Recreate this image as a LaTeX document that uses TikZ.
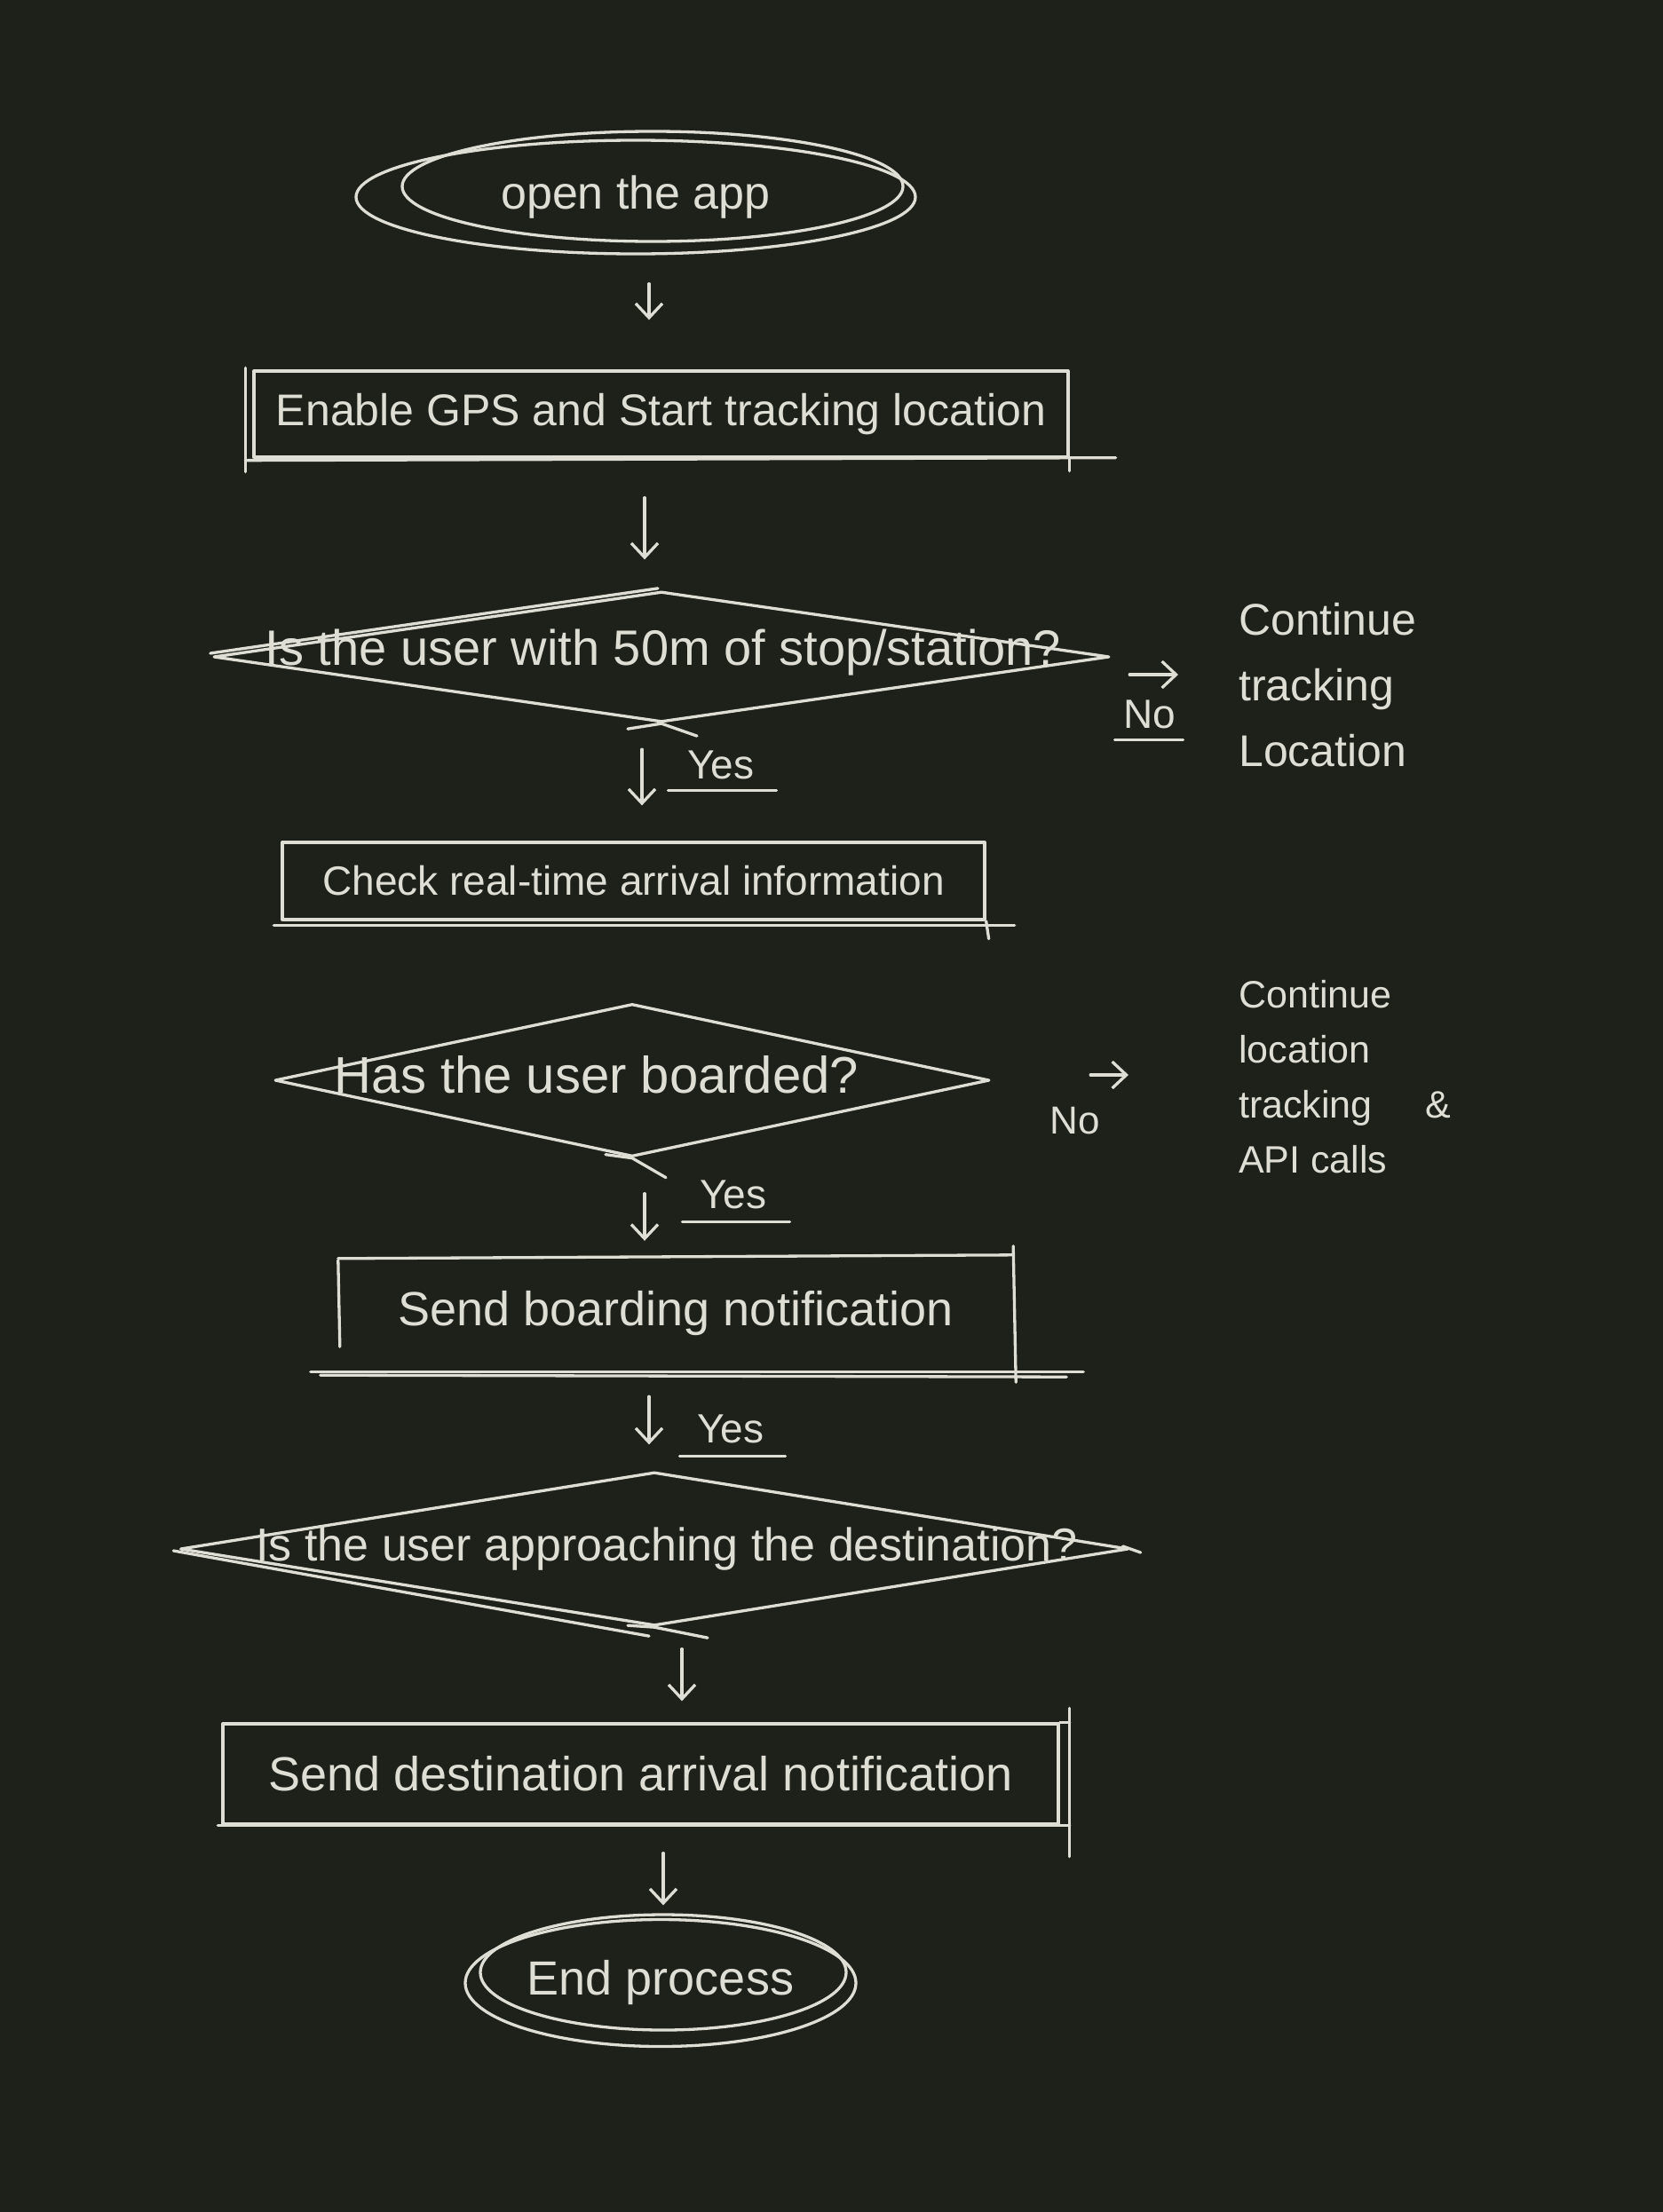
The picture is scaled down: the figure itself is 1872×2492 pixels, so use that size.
\documentclass[tikz,border=0pt]{standalone}
\usepackage{fontspec}
\setmainfont{Liberation Sans}
\usetikzlibrary{shapes.geometric,arrows.meta,calc}
\definecolor{bg}{RGB}{29,33,26}
\definecolor{chalk}{RGB}{222,222,212}
\begin{document}
\begin{tikzpicture}[x=1pt,y=-1pt,
  every node/.style={text=chalk},
  line/.style={draw=chalk,line width=3.3pt,line cap=round,line join=round},
  stepbox/.style={line, rectangle, inner sep=0pt},
  plainbox/.style={rectangle, inner sep=0pt},
  ovalbox/.style={line, ellipse, inner sep=0pt},
  decision/.style={line, diamond, inner sep=0pt},
  txt/.style={inner sep=0pt},
  arr/.style={line, -{Straight Barb[length=16pt,width=30pt,line width=3.3pt]}},
  uline/.style={line, line width=2.8pt},
]
\useasboundingbox (0,0) rectangle (1872,2492);
\fill[bg] (-20,-20) rectangle (1892,2512);

% start
\node[ovalbox, minimum width=630pt, minimum height=128pt, font=\fontsize{52}{62}\selectfont] (start) at (716,222) {open the app};
\draw[line] (735,210) ellipse [x radius=282pt, y radius=62pt];

% GPS box
\node[stepbox, minimum width=917pt, minimum height=97pt, font=\fontsize{50}{60}\selectfont] (gps) at (744.5,466.5) {Enable GPS and Start tracking location};
\draw[line] ($(gps.north west)+(-8,-2)$) -- ($(gps.south west)+(-8,15)$);
\draw[line] ($(gps.south west)+(-8,2)$) -- ($(gps.south east)+(52,-1)$);
\draw[line] (gps.south east) -- ++(0,14);
\draw[arr] ($(start.south)+(15,32)$) -- ($(gps.north)+(-13.5,-56)$);

% decision 1
\node[decision, minimum width=1009pt, minimum height=147pt] (near) at (745,740) {};
\draw[line] ($(near.west)+(-2,-4)$) -- ($(near.north)+(-4,-2)$);
\draw[line] ($(near.south)+(-38,6)$) -- (near.south) -- ($(near.south)+(40,14)$);
\node[txt, font=\fontsize{56}{66}\selectfont] (neartxt) at (747,735) {Is the user with 50m of stop/station?};
\draw[arr] ($(gps.south)+(-18.5,44)$) -- ($(near.north)+(-19,-34.5)$);

\node[txt, anchor=west, align=left, font=\fontsize{50}{74}\selectfont] (cont1) at (1395,772) {Continue\\tracking\\Location};
\draw[arr] ($(near.east)+(21,20)$) -- ($(cont1.west)+(-68,-12)$);
\node[txt, font=\fontsize{46}{56}\selectfont] (no1) at (1295,805) {No};
\draw[uline] ($(no1.south west)+(-10,12)$) -- ($(no1.south east)+(8,12)$);

% check box
\node[stepbox, minimum width=791pt, minimum height=87pt, font=\fontsize{46}{56}\selectfont] (check) at (713.5,992.5) {Check real-time arrival information};
\draw[arr] ($(near.south)+(-22,29)$) -- ($(check.north)+(9.5,-40)$);
\node[txt, font=\fontsize{46}{56}\selectfont] (yes1) at (812,862) {Yes};
\draw[uline] ($(yes1.south west)+(-22,12)$) -- ($(yes1.south east)+(25,12)$);
\draw[line] ($(check.south west)+(-8,5)$) -- ($(check.south east)+(32,5)$);
\draw[line] (check.south east) -- ++(3,20);

% decision 2
\node[decision, minimum width=805pt, minimum height=172pt] (board) at (712,1217) {};
\draw[line] ($(board.south)+(-30,-4)$) -- (board.south) -- ($(board.south)+(38,22)$);
\node[txt, font=\fontsize{58}{68}\selectfont] (boardtxt) at (672,1211) {Has the user boarded?};

\node[txt, anchor=west, align=left, font=\fontsize{43}{62}\selectfont] (cont2) at (1395,1213) {Continue\\location\\tracking\hspace{60pt}\&\\API calls};
\draw[arr] ($(board.east)+(112,-6)$) -- ($(cont2.west)+(-124,-2)$);
\node[txt, font=\fontsize{44}{54}\selectfont] (no2) at (1211,1263) {No};

% boarding notification
\node[plainbox, minimum width=760pt, minimum height=131pt, font=\fontsize{54}{64}\selectfont] (send1) at (761,1479.5) {Send boarding notification};
\draw[line] ($(send1.north west)+(0,6)$) -- ($(send1.south west)+(2,-28)$);
\draw[line] ($(send1.north west)+(0,4)$) -- ($(send1.north east)+(0,0)$);
\draw[line] ($(send1.north east)+(0,-10)$) -- ($(send1.south east)+(3,12)$);
\draw[line] ($(send1.south west)+(-31,0)$) -- ($(send1.south east)+(79,0)$);
\draw[line] ($(send1.south west)+(-20,4)$) -- ($(send1.south east)+(60,6)$);
\draw[arr] ($(board.south)+(14,40)$) -- ($(send1.north)+(-35,-16)$);
\node[txt, font=\fontsize{46}{56}\selectfont] (yes2) at (826,1346) {Yes};
\draw[uline] ($(yes2.south west)+(-20,14)$) -- ($(yes2.south east)+(26,14)$);

% decision 3
\node[decision, minimum width=1068pt, minimum height=173pt] (dest) at (737,1745) {};
\draw[line] ($(dest.west)+(-6,2)$) -- ($(dest.south)+(-6,10)$);
\draw[line] ($(dest.south)+(-30,-2)$) -- (dest.south) -- ($(dest.south)+(60,12)$);
\draw[line] ($(dest.east)+(-8,-3)$) -- ($(dest.east)+(12,4)$);
\node[txt, font=\fontsize{52}{62}\selectfont] (desttxt) at (751,1745) {Is the user approaching the destination?};
\draw[arr] ($(send1.south)+(-30,28)$) -- ($(dest.north)+(-6,-29.5)$);
\node[txt, font=\fontsize{46}{56}\selectfont] (yes3) at (823,1610) {Yes};
\draw[uline] ($(yes3.south west)+(-20,14)$) -- ($(yes3.south east)+(24,14)$);

% arrival notification
\node[stepbox, minimum width=941pt, minimum height=113pt, font=\fontsize{54}{64}\selectfont] (arrive) at (721.5,1998.5) {Send destination arrival notification};
\draw[line] ($(arrive.north east)+(11,-16)$) -- ($(arrive.south east)+(11,35)$);
\draw[line] (arrive.north east) -- ++(11,0);
\draw[line] ($(arrive.south west)+(-4,0)$) -- ($(arrive.south east)+(11,0)$);
\draw[arr] ($(dest.south)+(31,24.5)$) -- ($(arrive.north)+(46.5,-24)$);

% end
\node[ovalbox, minimum width=440pt, minimum height=143pt, font=\fontsize{54}{64}\selectfont] (finish) at (744,2234) {End process};
\draw[line] (747,2222) ellipse [x radius=206pt, y radius=65pt];
\draw[arr] ($(arrive.south)+(25.5,31)$) -- ($(finish.north)+(3,-14.5)$);
\end{tikzpicture}
\end{document}
